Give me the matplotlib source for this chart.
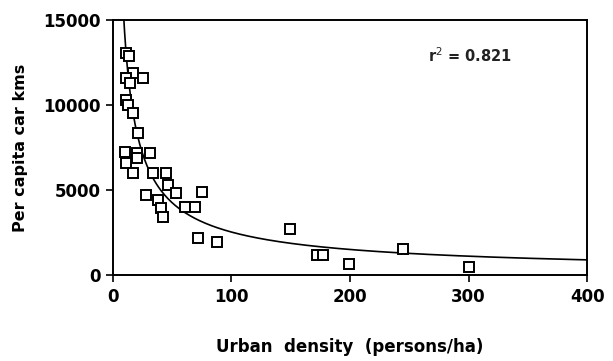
import matplotlib
matplotlib.use("Agg")
import matplotlib.pyplot as plt
import numpy as np

# urban density (persons/ha) vs per capita car kms
density = [11.5, 14, 17, 25.6, 11.5, 14.3, 11.5, 13, 17, 21.4,
           10, 20, 31, 11.5, 20, 17, 34, 45, 46.7, 74.8,
           28.4, 38, 41, 53.7, 60.8, 69.2, 42.4, 72, 87.5, 149,
           172, 177.5, 199, 245, 300.4]
car_kms = [13040, 12900, 11860, 11570, 11570, 11280, 10290, 10000, 9510, 8330,
           7250, 7160, 7160, 6570, 6860, 5980, 5980, 5980, 5290, 4900,
           4710, 4410, 3920, 4800, 4020, 4020, 3430, 2160, 1960, 2690,
           1180, 1180, 630, 1510, 490]

# power-law trend: y = a * x^b
CURVE_A = 80000
CURVE_B = -0.75
r2_text = "r$^2$ = 0.821"

xticks = [0, 100, 200, 300, 400]
yticks = [0, 5000, 10000, 15000]

plt.rcParams["font.family"] = ["DejaVu Sans"]

fig = plt.figure(figsize=(6.13, 3.61), dpi=100)
ax = fig.add_axes([0.184, 0.238, 0.774, 0.707])

xs = np.linspace(5, 400, 400)
ax.plot(xs, CURVE_A * xs ** CURVE_B, color="black", linewidth=1.2)
ax.plot(density, car_kms, linestyle="none", marker="s", markersize=7.5,
        markerfacecolor="white", markeredgecolor="black", markeredgewidth=1.4)

ax.set_xlim(0, 400)
ax.set_ylim(0, 15000)
ax.set_xticks(xticks)
ax.set_yticks(yticks)
for lab in ax.get_xticklabels() + ax.get_yticklabels():
    lab.set_fontweight("bold")
    lab.set_fontsize(12)
ax.tick_params(direction="out", length=5, width=1.2, pad=4)
for sp in ax.spines.values():
    sp.set_linewidth(1.4)

ax.set_xlabel("Urban  density  (persons/ha)", fontsize=12, fontweight="bold", labelpad=23)
ax.set_ylabel("Per capita car kms", fontsize=11.5, fontweight="bold", labelpad=11)

ax.text(266, 12900, r2_text, fontsize=10.5, fontweight="bold", color="#222222",
        va="center", ha="left")

plt.savefig("out.png", dpi=100)
